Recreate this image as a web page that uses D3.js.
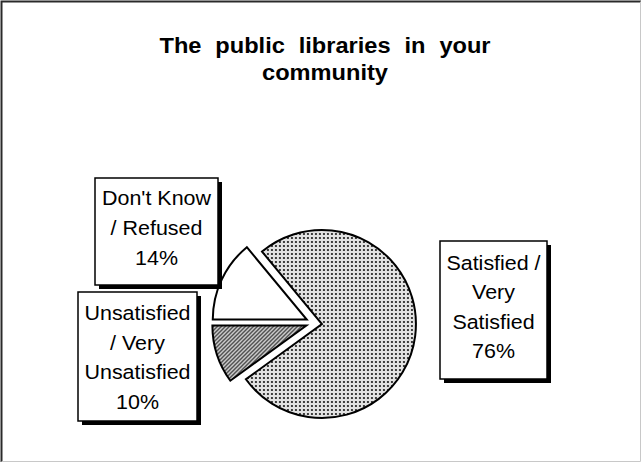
<!DOCTYPE html>
<html>
<head>
<meta charset="utf-8">
<script src="https://cdn.jsdelivr.net/npm/d3@7"></script>
<style>
  html, body { margin: 0; padding: 0; background: #fff; }
  svg { display: block; }
</style>
</head>
<body>
<svg id="chart" width="642" height="463"></svg>
<script>
// ---- data ----
const title = ["The public libraries in your", "community"];
const categories = ["Satisfied / Very Satisfied", "Unsatisfied / Very Unsatisfied", "Don't Know / Refused"];
const values = [76, 10, 14];
const labelLines = [
  ["Satisfied /", "Very", "Satisfied", "76%"],
  ["Unsatisfied", "/ Very", "Unsatisfied", "10%"],
  ["Don't Know", "/ Refused", "14%"]
];

// ---- layout ----
const W = 642, H = 463;
const FONT = "'Liberation Sans', Arial, sans-serif";
const svg = d3.select("#chart");
const defs = svg.append("defs");

// patterns
const dots = defs.append("pattern").attr("id", "dots").attr("patternUnits", "userSpaceOnUse")
  .attr("width", 4).attr("height", 4);
dots.append("rect").attr("width", 4).attr("height", 4).attr("fill", "#e2e2e2");
dots.append("rect").attr("x", 1).attr("y", 1).attr("width", 2).attr("height", 2).attr("fill", "#3c3c3c");

const hatch = defs.append("pattern").attr("id", "hatch").attr("patternUnits", "userSpaceOnUse")
  .attr("width", 4).attr("height", 4);
hatch.append("rect").attr("width", 4).attr("height", 4).attr("fill", "#fff");
hatch.append("path").attr("d", "M-1,1 L1,-1 M0,4 L4,0 M3,5 L5,3")
  .attr("stroke", "#111").attr("stroke-width", 1.3);

const fills = ["url(#dots)", "url(#hatch)", "#ffffff"];

// background + frame
svg.append("rect").attr("width", W).attr("height", H).attr("fill", "#fff");
svg.append("path").attr("d", `M1.5,${H - 1} L1.5,1.5 L${W - 1},1.5`)
  .attr("fill", "none").attr("stroke", "#2a2a2a").attr("stroke-width", 2);
svg.append("path").attr("d", `M${W - 1.5},1.5 L${W - 1.5},${H - 1.5} L1.5,${H - 1.5}`)
  .attr("fill", "none").attr("stroke", "#c8c8c8").attr("stroke-width", 1);

// title (glyphs rendered slightly wide, as in the reference)
svg.append("text")
  .attr("transform", "translate(325,0) scale(1.05,1)")
  .attr("text-anchor", "middle")
  .style("font-family", FONT)
  .style("font-weight", "bold").style("font-size", "22.5px")
  .style("word-spacing", "7px")
  .selectAll("tspan").data(title).join("tspan")
  .attr("x", 0).attr("y", (d, i) => 53 + i * 27)
  .text(d => d);

// pie
const cx = 314, cy = 323, R = 94, explode = 8;
const total = d3.sum(values);
// boundary between last two slices sits at 9 o'clock
const start = 1.5 * Math.PI - (values[0] + values[1]) / total * 2 * Math.PI;
const pie = d3.pie().sort(null).value(d => d).startAngle(start).endAngle(start + 2 * Math.PI);
const arc = d3.arc().innerRadius(0).outerRadius(R);
const arcs = pie(values);

svg.append("g").attr("transform", `translate(${cx},${cy})`)
  .selectAll("path").data(arcs).join("path")
  .attr("transform", d => {
    const a = (d.startAngle + d.endAngle) / 2;
    return `translate(${Math.sin(a) * explode},${-Math.cos(a) * explode})`;
  })
  .attr("d", arc)
  .attr("fill", (d, i) => fills[i])
  .attr("stroke", "#000").attr("stroke-width", 2).attr("stroke-linejoin", "miter");

// label boxes
const boxes = [
  { x: 440, y: 241, w: 107, h: 138, base: 270, step: 29.3 },
  { x: 78, y: 292, w: 119, h: 129, base: 320, step: 29.7 },
  { x: 95, y: 178, w: 123, h: 107, base: 205, step: 30 }
];

boxes.forEach((b, i) => {
  const g = svg.append("g");
  g.append("rect").attr("x", b.x + 4).attr("y", b.y + 4).attr("width", b.w).attr("height", b.h)
    .attr("fill", "#000");
  g.append("rect").attr("x", b.x).attr("y", b.y).attr("width", b.w).attr("height", b.h)
    .attr("fill", "#fff").attr("stroke", "#000").attr("stroke-width", 1.5);
  g.append("text")
    .attr("transform", `translate(${b.x + b.w / 2},0) scale(1.1,1)`)
    .attr("text-anchor", "middle")
    .style("font-family", FONT)
    .style("font-size", "19.5px")
    .attr("fill", "#000")
    .selectAll("tspan").data(labelLines[i]).join("tspan")
    .attr("x", 0)
    .attr("y", (d, j) => b.base + j * b.step)
    .text(d => d);
});
</script>
</body>
</html>
